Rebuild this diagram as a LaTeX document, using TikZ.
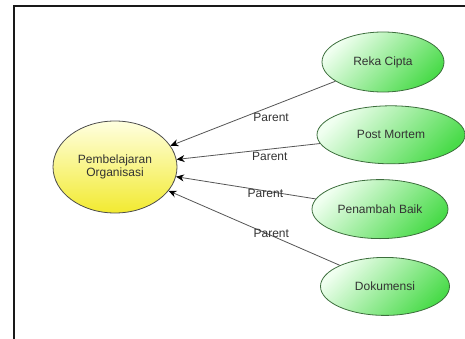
\documentclass[tikz,border=0pt]{standalone}
\usepackage{fontspec}
\setmainfont{Liberation Sans}
\usetikzlibrary{positioning}
\usetikzlibrary{shapes.geometric}
\usetikzlibrary{arrows.meta}

\definecolor{gLight}{HTML}{F0FFF0}
\definecolor{gDark}{HTML}{4ADB4A}
\definecolor{gLine}{HTML}{3C6E3C}
\definecolor{yLight}{HTML}{FFFFE0}
\definecolor{yDark}{HTML}{F2EA30}
\definecolor{txt}{HTML}{333333}
\definecolor{wire}{HTML}{555555}

\tikzset{
	usecase/.style = {ellipse, draw = gLine, line width = .8pt, inner sep = 0pt,
		top color = gLight, bottom color = gDark, shading angle = 45,
		text = txt, font = \fontsize{12}{12.5}\selectfont},
	main/.style = {usecase, draw = black!70, top color = yLight, bottom color = yDark},
	link/.style = {draw = wire, line width = .8pt,
		-{Stealth[length = 8pt, width = 7pt, color = black]}},
	lbl/.style = {text = txt, font = \fontsize{12}{12}\selectfont, inner sep = 2pt}
}

\begin{document}
\begin{tikzpicture}[x = 1pt, y = 1pt]
		\useasboundingbox (0,0) rectangle (465,338);
		\draw[line width = 2pt, black!90] (14,-2) -- (14,332) -- (467,332);
		
		\node[main, minimum width = 124pt, minimum height = 92pt, align = center] (PO) at (115,171) {Pembelajaran\\Organisasi};
		
		\node[usecase, minimum width = 122pt, minimum height = 60pt] (RC) at (383,276) {Reka Cipta};
		\node[usecase, minimum width = 148pt, minimum height = 58pt, below = 13pt of RC, xshift = 8pt] (PM) {Post Mortem};
		\node[usecase, minimum width = 136pt, minimum height = 59pt, below = 15pt of PM, xshift = -11pt] (PB) {Penambah Baik};
		\node[usecase, minimum width = 129pt, minimum height = 58pt, below = 18pt of PB, xshift = 5pt] (DK) {Dokumensi};
		
		\path (RC.202) edge[link] node[lbl, pos = .39, below = 4pt] (P1) {Parent} (PO.21);
		\path (PM.187) edge[link] node[lbl, pos = .35, below = 1pt] (P2) {Parent} (PO.7);
		\path (PB.171) edge[link] node[lbl, pos = .36, yshift = -3pt] (P3) {Parent} (PO.-9);
		\path (DK.155) edge[link] node[lbl, pos = .4, yshift = 2pt] (P4) {Parent} (PO.-24);
	\end{tikzpicture}
\end{document}
